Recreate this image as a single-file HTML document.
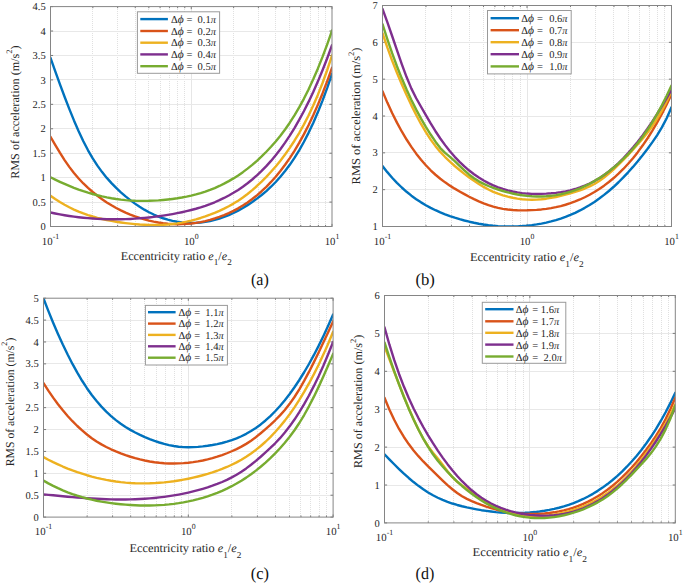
<!DOCTYPE html>
<html><head><meta charset="utf-8"><style>
html,body{margin:0;padding:0;background:#fff;width:685px;height:584px;overflow:hidden}
body{position:relative;font-family:"Liberation Serif", serif}
svg text{font-family:"Liberation Serif", serif;text-rendering:geometricPrecision;stroke:#262626;stroke-width:0px;paint-order:stroke}
</style></head><body>
<svg width="685" height="584" viewBox="0 0 685 584" style="position:absolute;left:0;top:0">
<defs>
<clipPath id="clipa"><rect x="50.5" y="6.6" width="281.5" height="219.9"/></clipPath>
<clipPath id="clipb"><rect x="382.5" y="5.5" width="289.0" height="221.0"/></clipPath>
<clipPath id="clipc"><rect x="43.5" y="298.2" width="289.6" height="218.90000000000003"/></clipPath>
<clipPath id="clipd"><rect x="384.5" y="295.5" width="290.79999999999995" height="227.39999999999998"/></clipPath>
</defs>
<line x1="92.50" y1="7" x2="92.50" y2="226" stroke="#e0e0e0" stroke-width="1" stroke-dasharray="1,1"/>
<line x1="117.50" y1="7" x2="117.50" y2="226" stroke="#e0e0e0" stroke-width="1" stroke-dasharray="1,1"/>
<line x1="135.50" y1="7" x2="135.50" y2="226" stroke="#e0e0e0" stroke-width="1" stroke-dasharray="1,1"/>
<line x1="148.50" y1="7" x2="148.50" y2="226" stroke="#e0e0e0" stroke-width="1" stroke-dasharray="1,1"/>
<line x1="160.50" y1="7" x2="160.50" y2="226" stroke="#e0e0e0" stroke-width="1" stroke-dasharray="1,1"/>
<line x1="169.50" y1="7" x2="169.50" y2="226" stroke="#e0e0e0" stroke-width="1" stroke-dasharray="1,1"/>
<line x1="177.50" y1="7" x2="177.50" y2="226" stroke="#e0e0e0" stroke-width="1" stroke-dasharray="1,1"/>
<line x1="184.50" y1="7" x2="184.50" y2="226" stroke="#e0e0e0" stroke-width="1" stroke-dasharray="1,1"/>
<line x1="233.50" y1="7" x2="233.50" y2="226" stroke="#e0e0e0" stroke-width="1" stroke-dasharray="1,1"/>
<line x1="258.50" y1="7" x2="258.50" y2="226" stroke="#e0e0e0" stroke-width="1" stroke-dasharray="1,1"/>
<line x1="275.50" y1="7" x2="275.50" y2="226" stroke="#e0e0e0" stroke-width="1" stroke-dasharray="1,1"/>
<line x1="289.50" y1="7" x2="289.50" y2="226" stroke="#e0e0e0" stroke-width="1" stroke-dasharray="1,1"/>
<line x1="300.50" y1="7" x2="300.50" y2="226" stroke="#e0e0e0" stroke-width="1" stroke-dasharray="1,1"/>
<line x1="310.50" y1="7" x2="310.50" y2="226" stroke="#e0e0e0" stroke-width="1" stroke-dasharray="1,1"/>
<line x1="318.50" y1="7" x2="318.50" y2="226" stroke="#e0e0e0" stroke-width="1" stroke-dasharray="1,1"/>
<line x1="325.50" y1="7" x2="325.50" y2="226" stroke="#e0e0e0" stroke-width="1" stroke-dasharray="1,1"/>
<line x1="191.50" y1="6.6" x2="191.50" y2="226.5" stroke="#e6e6e6" stroke-width="1"/>
<line x1="50.5" y1="202.50" x2="332.0" y2="202.50" stroke="#e8e8e8" stroke-width="1"/>
<line x1="50.5" y1="177.50" x2="332.0" y2="177.50" stroke="#e8e8e8" stroke-width="1"/>
<line x1="50.5" y1="153.50" x2="332.0" y2="153.50" stroke="#e8e8e8" stroke-width="1"/>
<line x1="50.5" y1="128.50" x2="332.0" y2="128.50" stroke="#e8e8e8" stroke-width="1"/>
<line x1="50.5" y1="104.50" x2="332.0" y2="104.50" stroke="#e8e8e8" stroke-width="1"/>
<line x1="50.5" y1="79.50" x2="332.0" y2="79.50" stroke="#e8e8e8" stroke-width="1"/>
<line x1="50.5" y1="55.50" x2="332.0" y2="55.50" stroke="#e8e8e8" stroke-width="1"/>
<line x1="50.5" y1="31.50" x2="332.0" y2="31.50" stroke="#e8e8e8" stroke-width="1"/>
<g stroke="#7a7a7a" stroke-width="1"><line x1="50.5" y1="226.50" x2="53.1" y2="226.50"/><line x1="332.0" y1="226.50" x2="329.4" y2="226.50"/><line x1="50.5" y1="202.07" x2="53.1" y2="202.07"/><line x1="332.0" y1="202.07" x2="329.4" y2="202.07"/><line x1="50.5" y1="177.63" x2="53.1" y2="177.63"/><line x1="332.0" y1="177.63" x2="329.4" y2="177.63"/><line x1="50.5" y1="153.20" x2="53.1" y2="153.20"/><line x1="332.0" y1="153.20" x2="329.4" y2="153.20"/><line x1="50.5" y1="128.77" x2="53.1" y2="128.77"/><line x1="332.0" y1="128.77" x2="329.4" y2="128.77"/><line x1="50.5" y1="104.33" x2="53.1" y2="104.33"/><line x1="332.0" y1="104.33" x2="329.4" y2="104.33"/><line x1="50.5" y1="79.90" x2="53.1" y2="79.90"/><line x1="332.0" y1="79.90" x2="329.4" y2="79.90"/><line x1="50.5" y1="55.47" x2="53.1" y2="55.47"/><line x1="332.0" y1="55.47" x2="329.4" y2="55.47"/><line x1="50.5" y1="31.03" x2="53.1" y2="31.03"/><line x1="332.0" y1="31.03" x2="329.4" y2="31.03"/><line x1="50.5" y1="6.60" x2="53.1" y2="6.60"/><line x1="332.0" y1="6.60" x2="329.4" y2="6.60"/><line x1="50.50" y1="226.5" x2="50.50" y2="223.9"/><line x1="50.50" y1="6.6" x2="50.50" y2="9.2"/><line x1="92.87" y1="226.5" x2="92.87" y2="224.9"/><line x1="92.87" y1="6.6" x2="92.87" y2="8.2"/><line x1="117.65" y1="226.5" x2="117.65" y2="224.9"/><line x1="117.65" y1="6.6" x2="117.65" y2="8.2"/><line x1="135.24" y1="226.5" x2="135.24" y2="224.9"/><line x1="135.24" y1="6.6" x2="135.24" y2="8.2"/><line x1="148.88" y1="226.5" x2="148.88" y2="224.9"/><line x1="148.88" y1="6.6" x2="148.88" y2="8.2"/><line x1="160.02" y1="226.5" x2="160.02" y2="224.9"/><line x1="160.02" y1="6.6" x2="160.02" y2="8.2"/><line x1="169.45" y1="226.5" x2="169.45" y2="224.9"/><line x1="169.45" y1="6.6" x2="169.45" y2="8.2"/><line x1="177.61" y1="226.5" x2="177.61" y2="224.9"/><line x1="177.61" y1="6.6" x2="177.61" y2="8.2"/><line x1="184.81" y1="226.5" x2="184.81" y2="224.9"/><line x1="184.81" y1="6.6" x2="184.81" y2="8.2"/><line x1="191.25" y1="226.5" x2="191.25" y2="223.9"/><line x1="191.25" y1="6.6" x2="191.25" y2="9.2"/><line x1="233.62" y1="226.5" x2="233.62" y2="224.9"/><line x1="233.62" y1="6.6" x2="233.62" y2="8.2"/><line x1="258.40" y1="226.5" x2="258.40" y2="224.9"/><line x1="258.40" y1="6.6" x2="258.40" y2="8.2"/><line x1="275.99" y1="226.5" x2="275.99" y2="224.9"/><line x1="275.99" y1="6.6" x2="275.99" y2="8.2"/><line x1="289.63" y1="226.5" x2="289.63" y2="224.9"/><line x1="289.63" y1="6.6" x2="289.63" y2="8.2"/><line x1="300.77" y1="226.5" x2="300.77" y2="224.9"/><line x1="300.77" y1="6.6" x2="300.77" y2="8.2"/><line x1="310.20" y1="226.5" x2="310.20" y2="224.9"/><line x1="310.20" y1="6.6" x2="310.20" y2="8.2"/><line x1="318.36" y1="226.5" x2="318.36" y2="224.9"/><line x1="318.36" y1="6.6" x2="318.36" y2="8.2"/><line x1="325.56" y1="226.5" x2="325.56" y2="224.9"/><line x1="325.56" y1="6.6" x2="325.56" y2="8.2"/><line x1="332.00" y1="226.5" x2="332.00" y2="223.9"/><line x1="332.00" y1="6.6" x2="332.00" y2="9.2"/></g>
<g clip-path="url(#clipa)"><polyline points="50.50,57.80 55.19,71.11 59.88,84.13 64.58,96.76 69.27,108.89 73.96,120.41 78.65,131.23 83.34,141.23 88.03,150.32 92.72,158.43 97.42,165.66 102.11,172.11 106.80,177.89 111.49,183.11 116.18,187.87 120.88,192.28 125.57,196.37 130.26,200.15 134.95,203.62 139.64,206.79 144.33,209.66 149.03,212.24 153.72,214.53 158.41,216.54 163.10,218.26 167.79,219.71 172.48,220.89 177.18,221.80 181.87,222.45 186.56,222.84 191.25,222.98 195.94,222.87 200.63,222.51 205.32,221.90 210.02,221.04 214.71,219.93 219.40,218.57 224.09,216.96 228.78,215.10 233.47,212.98 238.17,210.62 242.86,208.00 247.55,205.13 252.24,202.01 256.93,198.64 261.62,195.00 266.32,191.05 271.01,186.73 275.70,182.01 280.39,176.81 285.08,171.09 289.77,164.80 294.47,157.88 299.16,150.29 303.85,141.97 308.54,132.86 313.23,122.92 317.93,112.09 322.62,100.33 327.31,87.57 332.00,73.76" fill="none" stroke="#0072BD" stroke-width="2.4" stroke-linejoin="round" stroke-linecap="round"/><polyline points="50.50,136.85 55.19,144.89 59.88,152.69 64.58,160.08 69.27,166.89 73.96,173.01 78.65,178.51 83.34,183.46 88.03,187.94 92.72,192.02 97.42,195.78 102.11,199.25 106.80,202.42 111.49,205.33 116.18,207.98 120.88,210.39 125.57,212.58 130.26,214.55 134.95,216.34 139.64,217.94 144.33,219.36 149.03,220.60 153.72,221.66 158.41,222.54 163.10,223.23 167.79,223.74 172.48,224.06 177.18,224.20 181.87,224.15 186.56,223.91 191.25,223.48 195.94,222.87 200.63,222.06 205.32,221.06 210.02,219.87 214.71,218.48 219.40,216.90 224.09,215.11 228.78,213.10 233.47,210.84 238.17,208.33 242.86,205.54 247.55,202.45 252.24,199.05 256.93,195.32 261.62,191.24 266.32,186.79 271.01,181.96 275.70,176.71 280.39,171.01 285.08,164.81 289.77,158.09 294.47,150.80 299.16,142.91 303.85,134.38 308.54,125.18 313.23,115.27 317.93,104.61 322.62,93.17 327.31,80.91 332.00,67.79" fill="none" stroke="#D95319" stroke-width="2.4" stroke-linejoin="round" stroke-linecap="round"/><polyline points="50.50,195.76 55.19,199.05 59.88,202.06 64.58,204.80 69.27,207.29 73.96,209.55 78.65,211.59 83.34,213.42 88.03,215.05 92.72,216.52 97.42,217.82 102.11,218.97 106.80,220.00 111.49,220.91 116.18,221.72 120.88,222.45 125.57,223.10 130.26,223.67 134.95,224.15 139.64,224.54 144.33,224.82 149.03,225.00 153.72,225.05 158.41,224.99 163.10,224.80 167.79,224.46 172.48,223.99 177.18,223.36 181.87,222.59 186.56,221.67 191.25,220.59 195.94,219.36 200.63,217.98 205.32,216.44 210.02,214.74 214.71,212.88 219.40,210.85 224.09,208.65 228.78,206.24 233.47,203.59 238.17,200.68 242.86,197.47 247.55,193.95 252.24,190.12 256.93,185.98 261.62,181.55 266.32,176.83 271.01,171.80 275.70,166.44 280.39,160.70 285.08,154.53 289.77,147.89 294.47,140.74 299.16,133.01 303.85,124.63 308.54,115.51 313.23,105.55 317.93,94.67 322.62,82.77 327.31,69.75 332.00,55.53" fill="none" stroke="#EDB120" stroke-width="2.4" stroke-linejoin="round" stroke-linecap="round"/><polyline points="50.50,212.51 55.19,213.48 59.88,214.38 64.58,215.20 69.27,215.94 73.96,216.61 78.65,217.20 83.34,217.72 88.03,218.17 92.72,218.54 97.42,218.84 102.11,219.07 106.80,219.22 111.49,219.30 116.18,219.32 120.88,219.26 125.57,219.13 130.26,218.93 134.95,218.66 139.64,218.32 144.33,217.91 149.03,217.44 153.72,216.90 158.41,216.29 163.10,215.61 167.79,214.87 172.48,214.06 177.18,213.18 181.87,212.23 186.56,211.18 191.25,210.03 195.94,208.77 200.63,207.37 205.32,205.82 210.02,204.12 214.71,202.26 219.40,200.20 224.09,197.95 228.78,195.50 233.47,192.82 238.17,189.90 242.86,186.72 247.55,183.26 252.24,179.49 256.93,175.39 261.62,170.95 266.32,166.13 271.01,160.91 275.70,155.27 280.39,149.19 285.08,142.65 289.77,135.60 294.47,128.04 299.16,119.92 303.85,111.22 308.54,101.91 313.23,91.96 317.93,81.35 322.62,70.05 327.31,58.02 332.00,45.25" fill="none" stroke="#7E2F8E" stroke-width="2.4" stroke-linejoin="round" stroke-linecap="round"/><polyline points="50.50,177.27 55.19,179.60 59.88,181.82 64.58,183.92 69.27,185.90 73.96,187.77 78.65,189.52 83.34,191.14 88.03,192.64 92.72,194.02 97.42,195.27 102.11,196.39 106.80,197.39 111.49,198.25 116.18,198.99 120.88,199.60 125.57,200.08 130.26,200.45 134.95,200.71 139.64,200.85 144.33,200.88 149.03,200.81 153.72,200.63 158.41,200.36 163.10,199.98 167.79,199.52 172.48,198.96 177.18,198.30 181.87,197.53 186.56,196.63 191.25,195.61 195.94,194.43 200.63,193.10 205.32,191.60 210.02,189.92 214.71,188.04 219.40,185.96 224.09,183.67 228.78,181.15 233.47,178.40 238.17,175.40 242.86,172.15 247.55,168.64 252.24,164.85 256.93,160.79 261.62,156.42 266.32,151.76 271.01,146.78 275.70,141.43 280.39,135.67 285.08,129.45 289.77,122.70 294.47,115.38 299.16,107.43 303.85,98.81 308.54,89.46 313.23,79.34 317.93,68.43 322.62,56.68 327.31,44.08 332.00,30.58" fill="none" stroke="#77AC30" stroke-width="2.4" stroke-linejoin="round" stroke-linecap="round"/></g>
<rect x="50.5" y="6.6" width="281.50" height="219.90" fill="none" stroke="#858585" stroke-width="1"/>
<rect x="137.4" y="11.8" width="82.20" height="61.50" fill="#fff" stroke="#9a9a9a" stroke-width="1"/>
<line x1="140.3" y1="19.1" x2="167.9" y2="19.1" stroke="#0072BD" stroke-width="2.4"/>
<text x="170.90" y="22.80" font-size="10.5" fill="#262626">&#916;<tspan font-style="italic" font-size="11.5">&#981;</tspan></text>
<text x="186.60" y="22.80" font-size="10.5" fill="#262626">=</text>
<text x="197.50" y="22.80" font-size="10.5" fill="#262626">0.1<tspan font-style="italic">&#960;</tspan></text>
<line x1="140.3" y1="31.0" x2="167.9" y2="31.0" stroke="#D95319" stroke-width="2.4"/>
<text x="170.90" y="34.70" font-size="10.5" fill="#262626">&#916;<tspan font-style="italic" font-size="11.5">&#981;</tspan></text>
<text x="186.60" y="34.70" font-size="10.5" fill="#262626">=</text>
<text x="197.50" y="34.70" font-size="10.5" fill="#262626">0.2<tspan font-style="italic">&#960;</tspan></text>
<line x1="140.3" y1="42.7" x2="167.9" y2="42.7" stroke="#EDB120" stroke-width="2.4"/>
<text x="170.90" y="46.40" font-size="10.5" fill="#262626">&#916;<tspan font-style="italic" font-size="11.5">&#981;</tspan></text>
<text x="186.60" y="46.40" font-size="10.5" fill="#262626">=</text>
<text x="197.50" y="46.40" font-size="10.5" fill="#262626">0.3<tspan font-style="italic">&#960;</tspan></text>
<line x1="140.3" y1="54.4" x2="167.9" y2="54.4" stroke="#7E2F8E" stroke-width="2.4"/>
<text x="170.90" y="58.10" font-size="10.5" fill="#262626">&#916;<tspan font-style="italic" font-size="11.5">&#981;</tspan></text>
<text x="186.60" y="58.10" font-size="10.5" fill="#262626">=</text>
<text x="197.50" y="58.10" font-size="10.5" fill="#262626">0.4<tspan font-style="italic">&#960;</tspan></text>
<line x1="140.3" y1="66.2" x2="167.9" y2="66.2" stroke="#77AC30" stroke-width="2.4"/>
<text x="170.90" y="69.90" font-size="10.5" fill="#262626">&#916;<tspan font-style="italic" font-size="11.5">&#981;</tspan></text>
<text x="186.60" y="69.90" font-size="10.5" fill="#262626">=</text>
<text x="197.50" y="69.90" font-size="10.5" fill="#262626">0.5<tspan font-style="italic">&#960;</tspan></text>
<text x="45.70" y="230.10" font-size="10.5" fill="#262626" text-anchor="end">0</text>
<text x="45.70" y="205.67" font-size="10.5" fill="#262626" text-anchor="end">0.5</text>
<text x="45.70" y="181.23" font-size="10.5" fill="#262626" text-anchor="end">1</text>
<text x="45.70" y="156.80" font-size="10.5" fill="#262626" text-anchor="end">1.5</text>
<text x="45.70" y="132.37" font-size="10.5" fill="#262626" text-anchor="end">2</text>
<text x="45.70" y="107.93" font-size="10.5" fill="#262626" text-anchor="end">2.5</text>
<text x="45.70" y="83.50" font-size="10.5" fill="#262626" text-anchor="end">3</text>
<text x="45.70" y="59.07" font-size="10.5" fill="#262626" text-anchor="end">3.5</text>
<text x="45.70" y="34.63" font-size="10.5" fill="#262626" text-anchor="end">4</text>
<text x="45.70" y="10.20" font-size="10.5" fill="#262626" text-anchor="end">4.5</text>
<text x="50.50" y="244.80" font-size="10.8" fill="#262626" text-anchor="middle">10<tspan font-size="7.8" dy="-5.9">-1</tspan></text>
<text x="191.25" y="244.80" font-size="10.8" fill="#262626" text-anchor="middle">10<tspan font-size="7.8" dy="-5.9">0</tspan></text>
<text x="332.00" y="244.80" font-size="10.8" fill="#262626" text-anchor="middle">10<tspan font-size="7.8" dy="-5.9">1</tspan></text>
<text transform="translate(19.00,178.80) rotate(-90)" x="0" y="0" font-size="12" fill="#262626" textLength="133.40" lengthAdjust="spacingAndGlyphs">RMS of acceleration (m/s<tspan font-size="8.4" dy="-6.6">2</tspan><tspan dy="6.6">)</tspan></text>
<text x="120.70" y="259.80" font-size="12" fill="#262626" textLength="111.10" lengthAdjust="spacingAndGlyphs">Eccentricity ratio <tspan font-style="italic">e</tspan><tspan font-size="9" dy="5.6">1</tspan><tspan dy="-5.6">/</tspan><tspan font-style="italic">e</tspan><tspan font-size="9" dy="5.6">2</tspan></text>
<text x="251.00" y="285.40" font-size="17" fill="#111" textLength="17.80" lengthAdjust="spacingAndGlyphs">(a)</text>
<line x1="425.50" y1="6" x2="425.50" y2="226" stroke="#e0e0e0" stroke-width="1" stroke-dasharray="1,1"/>
<line x1="451.50" y1="6" x2="451.50" y2="226" stroke="#e0e0e0" stroke-width="1" stroke-dasharray="1,1"/>
<line x1="469.50" y1="6" x2="469.50" y2="226" stroke="#e0e0e0" stroke-width="1" stroke-dasharray="1,1"/>
<line x1="483.50" y1="6" x2="483.50" y2="226" stroke="#e0e0e0" stroke-width="1" stroke-dasharray="1,1"/>
<line x1="494.50" y1="6" x2="494.50" y2="226" stroke="#e0e0e0" stroke-width="1" stroke-dasharray="1,1"/>
<line x1="504.50" y1="6" x2="504.50" y2="226" stroke="#e0e0e0" stroke-width="1" stroke-dasharray="1,1"/>
<line x1="512.50" y1="6" x2="512.50" y2="226" stroke="#e0e0e0" stroke-width="1" stroke-dasharray="1,1"/>
<line x1="520.50" y1="6" x2="520.50" y2="226" stroke="#e0e0e0" stroke-width="1" stroke-dasharray="1,1"/>
<line x1="570.50" y1="6" x2="570.50" y2="226" stroke="#e0e0e0" stroke-width="1" stroke-dasharray="1,1"/>
<line x1="595.50" y1="6" x2="595.50" y2="226" stroke="#e0e0e0" stroke-width="1" stroke-dasharray="1,1"/>
<line x1="613.50" y1="6" x2="613.50" y2="226" stroke="#e0e0e0" stroke-width="1" stroke-dasharray="1,1"/>
<line x1="628.50" y1="6" x2="628.50" y2="226" stroke="#e0e0e0" stroke-width="1" stroke-dasharray="1,1"/>
<line x1="639.50" y1="6" x2="639.50" y2="226" stroke="#e0e0e0" stroke-width="1" stroke-dasharray="1,1"/>
<line x1="649.50" y1="6" x2="649.50" y2="226" stroke="#e0e0e0" stroke-width="1" stroke-dasharray="1,1"/>
<line x1="657.50" y1="6" x2="657.50" y2="226" stroke="#e0e0e0" stroke-width="1" stroke-dasharray="1,1"/>
<line x1="664.50" y1="6" x2="664.50" y2="226" stroke="#e0e0e0" stroke-width="1" stroke-dasharray="1,1"/>
<line x1="527.50" y1="5.5" x2="527.50" y2="226.5" stroke="#e6e6e6" stroke-width="1"/>
<line x1="382.5" y1="189.50" x2="671.5" y2="189.50" stroke="#e8e8e8" stroke-width="1"/>
<line x1="382.5" y1="152.50" x2="671.5" y2="152.50" stroke="#e8e8e8" stroke-width="1"/>
<line x1="382.5" y1="116.50" x2="671.5" y2="116.50" stroke="#e8e8e8" stroke-width="1"/>
<line x1="382.5" y1="79.50" x2="671.5" y2="79.50" stroke="#e8e8e8" stroke-width="1"/>
<line x1="382.5" y1="42.50" x2="671.5" y2="42.50" stroke="#e8e8e8" stroke-width="1"/>
<g stroke="#7a7a7a" stroke-width="1"><line x1="382.5" y1="226.50" x2="385.1" y2="226.50"/><line x1="671.5" y1="226.50" x2="668.9" y2="226.50"/><line x1="382.5" y1="189.67" x2="385.1" y2="189.67"/><line x1="671.5" y1="189.67" x2="668.9" y2="189.67"/><line x1="382.5" y1="152.83" x2="385.1" y2="152.83"/><line x1="671.5" y1="152.83" x2="668.9" y2="152.83"/><line x1="382.5" y1="116.00" x2="385.1" y2="116.00"/><line x1="671.5" y1="116.00" x2="668.9" y2="116.00"/><line x1="382.5" y1="79.17" x2="385.1" y2="79.17"/><line x1="671.5" y1="79.17" x2="668.9" y2="79.17"/><line x1="382.5" y1="42.33" x2="385.1" y2="42.33"/><line x1="671.5" y1="42.33" x2="668.9" y2="42.33"/><line x1="382.5" y1="5.50" x2="385.1" y2="5.50"/><line x1="671.5" y1="5.50" x2="668.9" y2="5.50"/><line x1="382.50" y1="226.5" x2="382.50" y2="223.9"/><line x1="382.50" y1="5.5" x2="382.50" y2="8.1"/><line x1="426.00" y1="226.5" x2="426.00" y2="224.9"/><line x1="426.00" y1="5.5" x2="426.00" y2="7.1"/><line x1="451.44" y1="226.5" x2="451.44" y2="224.9"/><line x1="451.44" y1="5.5" x2="451.44" y2="7.1"/><line x1="469.50" y1="226.5" x2="469.50" y2="224.9"/><line x1="469.50" y1="5.5" x2="469.50" y2="7.1"/><line x1="483.50" y1="226.5" x2="483.50" y2="224.9"/><line x1="483.50" y1="5.5" x2="483.50" y2="7.1"/><line x1="494.94" y1="226.5" x2="494.94" y2="224.9"/><line x1="494.94" y1="5.5" x2="494.94" y2="7.1"/><line x1="504.62" y1="226.5" x2="504.62" y2="224.9"/><line x1="504.62" y1="5.5" x2="504.62" y2="7.1"/><line x1="513.00" y1="226.5" x2="513.00" y2="224.9"/><line x1="513.00" y1="5.5" x2="513.00" y2="7.1"/><line x1="520.39" y1="226.5" x2="520.39" y2="224.9"/><line x1="520.39" y1="5.5" x2="520.39" y2="7.1"/><line x1="527.00" y1="226.5" x2="527.00" y2="223.9"/><line x1="527.00" y1="5.5" x2="527.00" y2="8.1"/><line x1="570.50" y1="226.5" x2="570.50" y2="224.9"/><line x1="570.50" y1="5.5" x2="570.50" y2="7.1"/><line x1="595.94" y1="226.5" x2="595.94" y2="224.9"/><line x1="595.94" y1="5.5" x2="595.94" y2="7.1"/><line x1="614.00" y1="226.5" x2="614.00" y2="224.9"/><line x1="614.00" y1="5.5" x2="614.00" y2="7.1"/><line x1="628.00" y1="226.5" x2="628.00" y2="224.9"/><line x1="628.00" y1="5.5" x2="628.00" y2="7.1"/><line x1="639.44" y1="226.5" x2="639.44" y2="224.9"/><line x1="639.44" y1="5.5" x2="639.44" y2="7.1"/><line x1="649.12" y1="226.5" x2="649.12" y2="224.9"/><line x1="649.12" y1="5.5" x2="649.12" y2="7.1"/><line x1="657.50" y1="226.5" x2="657.50" y2="224.9"/><line x1="657.50" y1="5.5" x2="657.50" y2="7.1"/><line x1="664.89" y1="226.5" x2="664.89" y2="224.9"/><line x1="664.89" y1="5.5" x2="664.89" y2="7.1"/><line x1="671.50" y1="226.5" x2="671.50" y2="223.9"/><line x1="671.50" y1="5.5" x2="671.50" y2="8.1"/></g>
<g clip-path="url(#clipb)"><polyline points="382.50,166.08 387.32,172.15 392.13,177.73 396.95,182.84 401.77,187.51 406.58,191.78 411.40,195.66 416.22,199.18 421.03,202.37 425.85,205.26 430.67,207.87 435.48,210.22 440.30,212.36 445.12,214.29 449.93,216.06 454.75,217.67 459.57,219.16 464.38,220.50 469.20,221.71 474.02,222.78 478.83,223.72 483.65,224.52 488.47,225.19 493.28,225.72 498.10,226.12 502.92,226.38 507.73,226.50 512.55,226.49 517.37,226.35 522.18,226.07 527.00,225.66 531.82,225.11 536.63,224.42 541.45,223.59 546.27,222.60 551.08,221.44 555.90,220.11 560.72,218.58 565.53,216.87 570.35,214.94 575.17,212.80 579.98,210.44 584.80,207.84 589.62,204.99 594.43,201.90 599.25,198.53 604.07,194.90 608.88,190.98 613.70,186.76 618.52,182.25 623.33,177.43 628.15,172.32 632.97,166.92 637.78,161.22 642.60,155.23 647.42,148.96 652.23,142.39 657.05,135.35 661.87,127.42 666.68,118.20 671.50,107.29" fill="none" stroke="#0072BD" stroke-width="2.4" stroke-linejoin="round" stroke-linecap="round"/><polyline points="382.50,91.20 387.32,102.60 392.13,113.07 396.95,122.66 401.77,131.46 406.58,139.52 411.40,146.90 416.22,153.64 421.03,159.76 425.85,165.29 430.67,170.28 435.48,174.75 440.30,178.75 445.12,182.36 449.93,185.64 454.75,188.66 459.57,191.47 464.38,194.15 469.20,196.72 474.02,199.13 478.83,201.37 483.65,203.40 488.47,205.19 493.28,206.71 498.10,207.93 502.92,208.86 507.73,209.53 512.55,209.98 517.37,210.23 522.18,210.33 527.00,210.30 531.82,210.15 536.63,209.86 541.45,209.43 546.27,208.85 551.08,208.10 555.90,207.17 560.72,206.06 565.53,204.74 570.35,203.22 575.17,201.47 579.98,199.48 584.80,197.25 589.62,194.77 594.43,192.01 599.25,188.98 604.07,185.66 608.88,182.02 613.70,178.04 618.52,173.69 623.33,168.96 628.15,163.80 632.97,158.20 637.78,152.14 642.60,145.57 647.42,138.49 652.23,130.86 657.05,122.65 661.87,113.84 666.68,104.41 671.50,94.33" fill="none" stroke="#D95319" stroke-width="2.4" stroke-linejoin="round" stroke-linecap="round"/><polyline points="382.50,33.23 387.32,47.46 392.13,60.58 396.95,72.78 401.77,84.24 406.58,95.09 411.40,105.34 416.22,114.99 421.03,123.96 425.85,132.19 430.67,139.61 435.48,146.16 440.30,151.93 445.12,157.04 449.93,161.67 454.75,165.99 459.57,170.04 464.38,173.85 469.20,177.45 474.02,180.85 478.83,184.02 483.65,186.93 488.47,189.53 493.28,191.79 498.10,193.70 502.92,195.30 507.73,196.64 512.55,197.74 517.37,198.59 522.18,199.21 527.00,199.58 531.82,199.71 536.63,199.60 541.45,199.26 546.27,198.69 551.08,197.91 555.90,196.96 560.72,195.85 565.53,194.62 570.35,193.29 575.17,191.87 579.98,190.31 584.80,188.51 589.62,186.42 594.43,183.95 599.25,181.03 604.07,177.58 608.88,173.67 613.70,169.35 618.52,164.72 623.33,159.84 628.15,154.80 632.97,149.64 637.78,144.31 642.60,138.72 647.42,132.73 652.23,126.17 657.05,118.88 661.87,110.71 666.68,101.47 671.50,91.01" fill="none" stroke="#EDB120" stroke-width="2.4" stroke-linejoin="round" stroke-linecap="round"/><polyline points="382.50,8.95 387.32,22.04 392.13,35.99 396.95,50.20 401.77,64.09 406.58,77.08 411.40,88.60 416.22,98.22 421.03,106.72 425.85,115.11 430.67,123.40 435.48,131.24 440.30,138.48 445.12,145.13 449.93,151.23 454.75,156.80 459.57,161.86 464.38,166.44 469.20,170.57 474.02,174.27 478.83,177.57 483.65,180.49 488.47,183.07 493.28,185.32 498.10,187.27 502.92,188.94 507.73,190.34 512.55,191.49 517.37,192.40 522.18,193.09 527.00,193.57 531.82,193.85 536.63,193.95 541.45,193.89 546.27,193.67 551.08,193.31 555.90,192.82 560.72,192.17 565.53,191.34 570.35,190.30 575.17,189.02 579.98,187.49 584.80,185.66 589.62,183.53 594.43,181.06 599.25,178.23 604.07,175.01 608.88,171.40 613.70,167.41 618.52,163.03 623.33,158.26 628.15,153.11 632.97,147.57 637.78,141.66 642.60,135.36 647.42,128.69 652.23,121.64 657.05,114.22 661.87,106.42 666.68,98.25 671.50,89.72" fill="none" stroke="#7E2F8E" stroke-width="2.4" stroke-linejoin="round" stroke-linecap="round"/><polyline points="382.50,24.11 387.32,39.16 392.13,53.18 396.95,66.22 401.77,78.32 406.58,89.56 411.40,99.97 416.22,109.62 421.03,118.56 425.85,126.85 430.67,134.54 435.48,141.68 440.30,148.06 445.12,152.92 449.93,156.86 454.75,161.15 459.57,165.79 464.38,170.41 469.20,174.68 474.02,178.31 478.83,181.34 483.65,183.87 488.47,186.00 493.28,187.85 498.10,189.50 502.92,190.99 507.73,192.32 512.55,193.48 517.37,194.45 522.18,195.25 527.00,195.85 531.82,196.26 536.63,196.46 541.45,196.46 546.27,196.25 551.08,195.82 555.90,195.16 560.72,194.27 565.53,193.14 570.35,191.77 575.17,190.16 579.98,188.28 584.80,186.15 589.62,183.75 594.43,181.08 599.25,178.13 604.07,174.89 608.88,171.36 613.70,167.54 618.52,163.41 623.33,158.93 628.15,154.07 632.97,148.76 637.78,142.98 642.60,136.68 647.42,129.81 652.23,122.33 657.05,114.19 661.87,105.36 666.68,95.78 671.50,85.42" fill="none" stroke="#77AC30" stroke-width="2.4" stroke-linejoin="round" stroke-linecap="round"/></g>
<rect x="382.5" y="5.5" width="289.00" height="221.00" fill="none" stroke="#858585" stroke-width="1"/>
<rect x="487.5" y="10.5" width="83.70" height="63.40" fill="#fff" stroke="#9a9a9a" stroke-width="1"/>
<line x1="490.6" y1="18.2" x2="519.0" y2="18.2" stroke="#0072BD" stroke-width="2.4"/>
<text x="521.20" y="21.90" font-size="10.5" fill="#262626">&#916;<tspan font-style="italic" font-size="11.5">&#981;</tspan></text>
<text x="536.90" y="21.90" font-size="10.5" fill="#262626">=</text>
<text x="549.20" y="21.90" font-size="10.5" fill="#262626">0.6<tspan font-style="italic">&#960;</tspan></text>
<line x1="490.6" y1="30.2" x2="519.0" y2="30.2" stroke="#D95319" stroke-width="2.4"/>
<text x="521.20" y="33.90" font-size="10.5" fill="#262626">&#916;<tspan font-style="italic" font-size="11.5">&#981;</tspan></text>
<text x="536.90" y="33.90" font-size="10.5" fill="#262626">=</text>
<text x="549.20" y="33.90" font-size="10.5" fill="#262626">0.7<tspan font-style="italic">&#960;</tspan></text>
<line x1="490.6" y1="42.2" x2="519.0" y2="42.2" stroke="#EDB120" stroke-width="2.4"/>
<text x="521.20" y="45.90" font-size="10.5" fill="#262626">&#916;<tspan font-style="italic" font-size="11.5">&#981;</tspan></text>
<text x="536.90" y="45.90" font-size="10.5" fill="#262626">=</text>
<text x="549.20" y="45.90" font-size="10.5" fill="#262626">0.8<tspan font-style="italic">&#960;</tspan></text>
<line x1="490.6" y1="54.2" x2="519.0" y2="54.2" stroke="#7E2F8E" stroke-width="2.4"/>
<text x="521.20" y="57.90" font-size="10.5" fill="#262626">&#916;<tspan font-style="italic" font-size="11.5">&#981;</tspan></text>
<text x="536.90" y="57.90" font-size="10.5" fill="#262626">=</text>
<text x="549.20" y="57.90" font-size="10.5" fill="#262626">0.9<tspan font-style="italic">&#960;</tspan></text>
<line x1="490.6" y1="66.4" x2="519.0" y2="66.4" stroke="#77AC30" stroke-width="2.4"/>
<text x="521.20" y="70.10" font-size="10.5" fill="#262626">&#916;<tspan font-style="italic" font-size="11.5">&#981;</tspan></text>
<text x="536.90" y="70.10" font-size="10.5" fill="#262626">=</text>
<text x="549.20" y="70.10" font-size="10.5" fill="#262626">1.0<tspan font-style="italic">&#960;</tspan></text>
<text x="377.70" y="230.10" font-size="10.5" fill="#262626" text-anchor="end">1</text>
<text x="377.70" y="193.27" font-size="10.5" fill="#262626" text-anchor="end">2</text>
<text x="377.70" y="156.43" font-size="10.5" fill="#262626" text-anchor="end">3</text>
<text x="377.70" y="119.60" font-size="10.5" fill="#262626" text-anchor="end">4</text>
<text x="377.70" y="82.77" font-size="10.5" fill="#262626" text-anchor="end">5</text>
<text x="377.70" y="45.93" font-size="10.5" fill="#262626" text-anchor="end">6</text>
<text x="377.70" y="9.10" font-size="10.5" fill="#262626" text-anchor="end">7</text>
<text x="382.50" y="245.00" font-size="10.8" fill="#262626" text-anchor="middle">10<tspan font-size="7.8" dy="-5.9">-1</tspan></text>
<text x="527.00" y="245.00" font-size="10.8" fill="#262626" text-anchor="middle">10<tspan font-size="7.8" dy="-5.9">0</tspan></text>
<text x="671.50" y="245.00" font-size="10.8" fill="#262626" text-anchor="middle">10<tspan font-size="7.8" dy="-5.9">1</tspan></text>
<text transform="translate(360.40,184.40) rotate(-90)" x="0" y="0" font-size="12" fill="#262626" textLength="136.90" lengthAdjust="spacingAndGlyphs">RMS of acceleration (m/s<tspan font-size="8.4" dy="-6.6">2</tspan><tspan dy="6.6">)</tspan></text>
<text x="469.90" y="261.00" font-size="12" fill="#262626" textLength="113.80" lengthAdjust="spacingAndGlyphs">Eccentricity ratio <tspan font-style="italic">e</tspan><tspan font-size="9" dy="5.6">1</tspan><tspan dy="-5.6">/</tspan><tspan font-style="italic">e</tspan><tspan font-size="9" dy="5.6">2</tspan></text>
<text x="415.40" y="285.30" font-size="17" fill="#111" textLength="19.40" lengthAdjust="spacingAndGlyphs">(b)</text>
<line x1="87.50" y1="299" x2="87.50" y2="517" stroke="#e0e0e0" stroke-width="1" stroke-dasharray="1,1"/>
<line x1="112.50" y1="299" x2="112.50" y2="517" stroke="#e0e0e0" stroke-width="1" stroke-dasharray="1,1"/>
<line x1="130.50" y1="299" x2="130.50" y2="517" stroke="#e0e0e0" stroke-width="1" stroke-dasharray="1,1"/>
<line x1="144.50" y1="299" x2="144.50" y2="517" stroke="#e0e0e0" stroke-width="1" stroke-dasharray="1,1"/>
<line x1="156.50" y1="299" x2="156.50" y2="517" stroke="#e0e0e0" stroke-width="1" stroke-dasharray="1,1"/>
<line x1="165.50" y1="299" x2="165.50" y2="517" stroke="#e0e0e0" stroke-width="1" stroke-dasharray="1,1"/>
<line x1="174.50" y1="299" x2="174.50" y2="517" stroke="#e0e0e0" stroke-width="1" stroke-dasharray="1,1"/>
<line x1="181.50" y1="299" x2="181.50" y2="517" stroke="#e0e0e0" stroke-width="1" stroke-dasharray="1,1"/>
<line x1="231.50" y1="299" x2="231.50" y2="517" stroke="#e0e0e0" stroke-width="1" stroke-dasharray="1,1"/>
<line x1="257.50" y1="299" x2="257.50" y2="517" stroke="#e0e0e0" stroke-width="1" stroke-dasharray="1,1"/>
<line x1="275.50" y1="299" x2="275.50" y2="517" stroke="#e0e0e0" stroke-width="1" stroke-dasharray="1,1"/>
<line x1="289.50" y1="299" x2="289.50" y2="517" stroke="#e0e0e0" stroke-width="1" stroke-dasharray="1,1"/>
<line x1="300.50" y1="299" x2="300.50" y2="517" stroke="#e0e0e0" stroke-width="1" stroke-dasharray="1,1"/>
<line x1="310.50" y1="299" x2="310.50" y2="517" stroke="#e0e0e0" stroke-width="1" stroke-dasharray="1,1"/>
<line x1="319.50" y1="299" x2="319.50" y2="517" stroke="#e0e0e0" stroke-width="1" stroke-dasharray="1,1"/>
<line x1="326.50" y1="299" x2="326.50" y2="517" stroke="#e0e0e0" stroke-width="1" stroke-dasharray="1,1"/>
<line x1="188.50" y1="298.2" x2="188.50" y2="517.1" stroke="#e6e6e6" stroke-width="1"/>
<line x1="43.5" y1="495.50" x2="333.1" y2="495.50" stroke="#e8e8e8" stroke-width="1"/>
<line x1="43.5" y1="473.50" x2="333.1" y2="473.50" stroke="#e8e8e8" stroke-width="1"/>
<line x1="43.5" y1="451.50" x2="333.1" y2="451.50" stroke="#e8e8e8" stroke-width="1"/>
<line x1="43.5" y1="429.50" x2="333.1" y2="429.50" stroke="#e8e8e8" stroke-width="1"/>
<line x1="43.5" y1="407.50" x2="333.1" y2="407.50" stroke="#e8e8e8" stroke-width="1"/>
<line x1="43.5" y1="385.50" x2="333.1" y2="385.50" stroke="#e8e8e8" stroke-width="1"/>
<line x1="43.5" y1="363.50" x2="333.1" y2="363.50" stroke="#e8e8e8" stroke-width="1"/>
<line x1="43.5" y1="341.50" x2="333.1" y2="341.50" stroke="#e8e8e8" stroke-width="1"/>
<line x1="43.5" y1="320.50" x2="333.1" y2="320.50" stroke="#e8e8e8" stroke-width="1"/>
<g stroke="#7a7a7a" stroke-width="1"><line x1="43.5" y1="517.10" x2="46.1" y2="517.10"/><line x1="333.1" y1="517.10" x2="330.5" y2="517.10"/><line x1="43.5" y1="495.21" x2="46.1" y2="495.21"/><line x1="333.1" y1="495.21" x2="330.5" y2="495.21"/><line x1="43.5" y1="473.32" x2="46.1" y2="473.32"/><line x1="333.1" y1="473.32" x2="330.5" y2="473.32"/><line x1="43.5" y1="451.43" x2="46.1" y2="451.43"/><line x1="333.1" y1="451.43" x2="330.5" y2="451.43"/><line x1="43.5" y1="429.54" x2="46.1" y2="429.54"/><line x1="333.1" y1="429.54" x2="330.5" y2="429.54"/><line x1="43.5" y1="407.65" x2="46.1" y2="407.65"/><line x1="333.1" y1="407.65" x2="330.5" y2="407.65"/><line x1="43.5" y1="385.76" x2="46.1" y2="385.76"/><line x1="333.1" y1="385.76" x2="330.5" y2="385.76"/><line x1="43.5" y1="363.87" x2="46.1" y2="363.87"/><line x1="333.1" y1="363.87" x2="330.5" y2="363.87"/><line x1="43.5" y1="341.98" x2="46.1" y2="341.98"/><line x1="333.1" y1="341.98" x2="330.5" y2="341.98"/><line x1="43.5" y1="320.09" x2="46.1" y2="320.09"/><line x1="333.1" y1="320.09" x2="330.5" y2="320.09"/><line x1="43.5" y1="298.20" x2="46.1" y2="298.20"/><line x1="333.1" y1="298.20" x2="330.5" y2="298.20"/><line x1="43.50" y1="517.1" x2="43.50" y2="514.5"/><line x1="43.50" y1="298.2" x2="43.50" y2="300.8"/><line x1="87.09" y1="517.1" x2="87.09" y2="515.5"/><line x1="87.09" y1="298.2" x2="87.09" y2="299.8"/><line x1="112.59" y1="517.1" x2="112.59" y2="515.5"/><line x1="112.59" y1="298.2" x2="112.59" y2="299.8"/><line x1="130.68" y1="517.1" x2="130.68" y2="515.5"/><line x1="130.68" y1="298.2" x2="130.68" y2="299.8"/><line x1="144.71" y1="517.1" x2="144.71" y2="515.5"/><line x1="144.71" y1="298.2" x2="144.71" y2="299.8"/><line x1="156.18" y1="517.1" x2="156.18" y2="515.5"/><line x1="156.18" y1="298.2" x2="156.18" y2="299.8"/><line x1="165.87" y1="517.1" x2="165.87" y2="515.5"/><line x1="165.87" y1="298.2" x2="165.87" y2="299.8"/><line x1="174.27" y1="517.1" x2="174.27" y2="515.5"/><line x1="174.27" y1="298.2" x2="174.27" y2="299.8"/><line x1="181.67" y1="517.1" x2="181.67" y2="515.5"/><line x1="181.67" y1="298.2" x2="181.67" y2="299.8"/><line x1="188.30" y1="517.1" x2="188.30" y2="514.5"/><line x1="188.30" y1="298.2" x2="188.30" y2="300.8"/><line x1="231.89" y1="517.1" x2="231.89" y2="515.5"/><line x1="231.89" y1="298.2" x2="231.89" y2="299.8"/><line x1="257.39" y1="517.1" x2="257.39" y2="515.5"/><line x1="257.39" y1="298.2" x2="257.39" y2="299.8"/><line x1="275.48" y1="517.1" x2="275.48" y2="515.5"/><line x1="275.48" y1="298.2" x2="275.48" y2="299.8"/><line x1="289.51" y1="517.1" x2="289.51" y2="515.5"/><line x1="289.51" y1="298.2" x2="289.51" y2="299.8"/><line x1="300.98" y1="517.1" x2="300.98" y2="515.5"/><line x1="300.98" y1="298.2" x2="300.98" y2="299.8"/><line x1="310.67" y1="517.1" x2="310.67" y2="515.5"/><line x1="310.67" y1="298.2" x2="310.67" y2="299.8"/><line x1="319.07" y1="517.1" x2="319.07" y2="515.5"/><line x1="319.07" y1="298.2" x2="319.07" y2="299.8"/><line x1="326.47" y1="517.1" x2="326.47" y2="515.5"/><line x1="326.47" y1="298.2" x2="326.47" y2="299.8"/><line x1="333.10" y1="517.1" x2="333.10" y2="514.5"/><line x1="333.10" y1="298.2" x2="333.10" y2="300.8"/></g>
<g clip-path="url(#clipc)"><polyline points="43.50,298.40 48.33,310.83 53.15,322.68 57.98,333.92 62.81,344.55 67.63,354.56 72.46,363.94 77.29,372.68 82.11,380.77 86.94,388.19 91.77,394.95 96.59,401.08 101.42,406.61 106.25,411.60 111.07,416.08 115.90,420.11 120.73,423.72 125.55,426.95 130.38,429.86 135.21,432.48 140.03,434.86 144.86,437.04 149.69,439.04 154.51,440.87 159.34,442.50 164.17,443.91 168.99,445.09 173.82,446.03 178.65,446.71 183.47,447.11 188.30,447.25 193.13,447.16 197.95,446.86 202.78,446.39 207.61,445.77 212.43,445.01 217.26,444.10 222.09,443.00 226.91,441.69 231.74,440.15 236.57,438.34 241.39,436.24 246.22,433.82 251.05,431.07 255.87,427.94 260.70,424.42 265.53,420.48 270.35,416.10 275.18,411.27 280.01,405.97 284.83,400.21 289.66,393.96 294.49,387.23 299.31,380.00 304.14,372.26 308.97,363.99 313.79,355.20 318.62,345.88 323.45,336.00 328.27,325.57 333.10,314.57" fill="none" stroke="#0072BD" stroke-width="2.4" stroke-linejoin="round" stroke-linecap="round"/><polyline points="43.50,383.11 48.33,390.57 53.15,397.59 57.98,404.17 62.81,410.31 67.63,415.99 72.46,421.22 77.29,426.01 82.11,430.41 86.94,434.48 91.77,438.19 96.59,441.49 101.42,444.40 106.25,446.97 111.07,449.29 115.90,451.42 120.73,453.36 125.55,455.14 130.38,456.74 135.21,458.18 140.03,459.44 144.86,460.53 149.69,461.45 154.51,462.20 159.34,462.78 164.17,463.19 168.99,463.44 173.82,463.51 178.65,463.42 183.47,463.17 188.30,462.74 193.13,462.16 197.95,461.40 202.78,460.48 207.61,459.39 212.43,458.12 217.26,456.68 222.09,455.06 226.91,453.25 231.74,451.26 236.57,449.07 241.39,446.64 246.22,443.88 251.05,440.75 255.87,437.17 260.70,433.21 265.53,429.07 270.35,424.80 275.18,420.28 280.01,415.38 284.83,409.95 289.66,403.87 294.49,397.01 299.31,389.33 304.14,380.93 308.97,371.92 313.79,362.41 318.62,352.51 323.45,342.33 328.27,331.98 333.10,321.57" fill="none" stroke="#D95319" stroke-width="2.4" stroke-linejoin="round" stroke-linecap="round"/><polyline points="43.50,457.18 48.33,459.72 53.15,462.12 57.98,464.38 62.81,466.52 67.63,468.52 72.46,470.39 77.29,472.13 82.11,473.73 86.94,475.22 91.77,476.57 96.59,477.80 101.42,478.90 106.25,479.88 111.07,480.74 115.90,481.47 120.73,482.09 125.55,482.59 130.38,482.96 135.21,483.22 140.03,483.37 144.86,483.40 149.69,483.32 154.51,483.12 159.34,482.81 164.17,482.40 168.99,481.87 173.82,481.24 178.65,480.49 183.47,479.65 188.30,478.70 193.13,477.64 197.95,476.48 202.78,475.22 207.61,473.86 212.43,472.37 217.26,470.75 222.09,468.95 226.91,466.97 231.74,464.78 236.57,462.36 241.39,459.68 246.22,456.73 251.05,453.48 255.87,449.92 260.70,446.01 265.53,441.75 270.35,437.10 275.18,432.04 280.01,426.56 284.83,420.62 289.66,414.22 294.49,407.32 299.31,399.91 304.14,391.96 308.97,383.45 313.79,374.37 318.62,364.68 323.45,354.36 328.27,343.40 333.10,331.78" fill="none" stroke="#EDB120" stroke-width="2.4" stroke-linejoin="round" stroke-linecap="round"/><polyline points="43.50,494.33 48.33,494.83 53.15,495.31 57.98,495.79 62.81,496.25 67.63,496.70 72.46,497.12 77.29,497.52 82.11,497.88 86.94,498.22 91.77,498.53 96.59,498.80 101.42,499.02 106.25,499.21 111.07,499.34 115.90,499.43 120.73,499.46 125.55,499.44 130.38,499.36 135.21,499.21 140.03,499.00 144.86,498.72 149.69,498.37 154.51,497.94 159.34,497.43 164.17,496.85 168.99,496.17 173.82,495.41 178.65,494.56 183.47,493.61 188.30,492.57 193.13,491.42 197.95,490.17 202.78,488.81 207.61,487.34 212.43,485.73 217.26,483.96 222.09,482.00 226.91,479.82 231.74,477.39 236.57,474.70 241.39,471.70 246.22,468.39 251.05,464.76 255.87,460.87 260.70,456.75 265.53,452.44 270.35,447.97 275.18,443.27 280.01,438.18 284.83,432.55 289.66,426.35 294.49,419.56 299.31,412.17 304.14,404.15 308.97,395.49 313.79,386.17 318.62,376.17 323.45,365.48 328.27,354.07 333.10,341.93" fill="none" stroke="#7E2F8E" stroke-width="2.4" stroke-linejoin="round" stroke-linecap="round"/><polyline points="43.50,480.62 48.33,483.35 53.15,485.87 57.98,488.20 62.81,490.34 67.63,492.30 72.46,494.09 77.29,495.71 82.11,497.17 86.94,498.49 91.77,499.67 96.59,500.71 101.42,501.63 106.25,502.44 111.07,503.14 115.90,503.74 120.73,504.24 125.55,504.67 130.38,505.01 135.21,505.27 140.03,505.44 144.86,505.52 149.69,505.51 154.51,505.39 159.34,505.17 164.17,504.85 168.99,504.40 173.82,503.84 178.65,503.16 183.47,502.36 188.30,501.42 193.13,500.35 197.95,499.15 202.78,497.80 207.61,496.30 212.43,494.64 217.26,492.81 222.09,490.80 226.91,488.60 231.74,486.19 236.57,483.57 241.39,480.71 246.22,477.62 251.05,474.27 255.87,470.66 260.70,466.77 265.53,462.60 270.35,458.13 275.18,453.34 280.01,448.23 284.83,442.75 289.66,436.78 294.49,430.24 299.31,423.00 304.14,415.02 308.97,406.32 313.79,396.92 318.62,386.89 323.45,376.32 328.27,365.28 333.10,353.85" fill="none" stroke="#77AC30" stroke-width="2.4" stroke-linejoin="round" stroke-linecap="round"/></g>
<rect x="43.5" y="298.2" width="289.60" height="218.90" fill="none" stroke="#858585" stroke-width="1"/>
<rect x="145.4" y="305.4" width="82.00" height="59.60" fill="#fff" stroke="#9a9a9a" stroke-width="1"/>
<line x1="148.0" y1="312.2" x2="175.6" y2="312.2" stroke="#0072BD" stroke-width="2.4"/>
<text x="178.60" y="315.80" font-size="10.5" fill="#262626">&#916;<tspan font-style="italic" font-size="11.5">&#981;</tspan></text>
<text x="194.30" y="315.80" font-size="10.5" fill="#262626">=</text>
<text x="205.30" y="315.80" font-size="10.5" fill="#262626">1.1<tspan font-style="italic">&#960;</tspan></text>
<line x1="148.0" y1="323.6" x2="175.6" y2="323.6" stroke="#D95319" stroke-width="2.4"/>
<text x="178.60" y="327.20" font-size="10.5" fill="#262626">&#916;<tspan font-style="italic" font-size="11.5">&#981;</tspan></text>
<text x="194.30" y="327.20" font-size="10.5" fill="#262626">=</text>
<text x="205.30" y="327.20" font-size="10.5" fill="#262626">1.2<tspan font-style="italic">&#960;</tspan></text>
<line x1="148.0" y1="334.9" x2="175.6" y2="334.9" stroke="#EDB120" stroke-width="2.4"/>
<text x="178.60" y="338.50" font-size="10.5" fill="#262626">&#916;<tspan font-style="italic" font-size="11.5">&#981;</tspan></text>
<text x="194.30" y="338.50" font-size="10.5" fill="#262626">=</text>
<text x="205.30" y="338.50" font-size="10.5" fill="#262626">1.3<tspan font-style="italic">&#960;</tspan></text>
<line x1="148.0" y1="346.3" x2="175.6" y2="346.3" stroke="#7E2F8E" stroke-width="2.4"/>
<text x="178.60" y="349.90" font-size="10.5" fill="#262626">&#916;<tspan font-style="italic" font-size="11.5">&#981;</tspan></text>
<text x="194.30" y="349.90" font-size="10.5" fill="#262626">=</text>
<text x="205.30" y="349.90" font-size="10.5" fill="#262626">1.4<tspan font-style="italic">&#960;</tspan></text>
<line x1="148.0" y1="357.7" x2="175.6" y2="357.7" stroke="#77AC30" stroke-width="2.4"/>
<text x="178.60" y="361.30" font-size="10.5" fill="#262626">&#916;<tspan font-style="italic" font-size="11.5">&#981;</tspan></text>
<text x="194.30" y="361.30" font-size="10.5" fill="#262626">=</text>
<text x="205.30" y="361.30" font-size="10.5" fill="#262626">1.5<tspan font-style="italic">&#960;</tspan></text>
<text x="38.70" y="520.70" font-size="10.5" fill="#262626" text-anchor="end">0</text>
<text x="38.70" y="498.81" font-size="10.5" fill="#262626" text-anchor="end">0.5</text>
<text x="38.70" y="476.92" font-size="10.5" fill="#262626" text-anchor="end">1</text>
<text x="38.70" y="455.03" font-size="10.5" fill="#262626" text-anchor="end">1.5</text>
<text x="38.70" y="433.14" font-size="10.5" fill="#262626" text-anchor="end">2</text>
<text x="38.70" y="411.25" font-size="10.5" fill="#262626" text-anchor="end">2.5</text>
<text x="38.70" y="389.36" font-size="10.5" fill="#262626" text-anchor="end">3</text>
<text x="38.70" y="367.47" font-size="10.5" fill="#262626" text-anchor="end">3.5</text>
<text x="38.70" y="345.58" font-size="10.5" fill="#262626" text-anchor="end">4</text>
<text x="38.70" y="323.69" font-size="10.5" fill="#262626" text-anchor="end">4.5</text>
<text x="38.70" y="301.80" font-size="10.5" fill="#262626" text-anchor="end">5</text>
<text x="43.50" y="534.50" font-size="10.8" fill="#262626" text-anchor="middle">10<tspan font-size="7.8" dy="-5.9">-1</tspan></text>
<text x="188.30" y="534.50" font-size="10.8" fill="#262626" text-anchor="middle">10<tspan font-size="7.8" dy="-5.9">0</tspan></text>
<text x="333.10" y="534.50" font-size="10.8" fill="#262626" text-anchor="middle">10<tspan font-size="7.8" dy="-5.9">1</tspan></text>
<text transform="translate(13.50,466.20) rotate(-90)" x="0" y="0" font-size="12" fill="#262626" textLength="128.50" lengthAdjust="spacingAndGlyphs">RMS of acceleration (m/s<tspan font-size="8.4" dy="-6.6">2</tspan><tspan dy="6.6">)</tspan></text>
<text x="129.50" y="552.10" font-size="12" fill="#262626" textLength="111.90" lengthAdjust="spacingAndGlyphs">Eccentricity ratio <tspan font-style="italic">e</tspan><tspan font-size="9" dy="5.6">1</tspan><tspan dy="-5.6">/</tspan><tspan font-style="italic">e</tspan><tspan font-size="9" dy="5.6">2</tspan></text>
<text x="250.70" y="578.80" font-size="17" fill="#111" textLength="18.20" lengthAdjust="spacingAndGlyphs">(c)</text>
<line x1="428.50" y1="296" x2="428.50" y2="522" stroke="#e0e0e0" stroke-width="1" stroke-dasharray="1,1"/>
<line x1="453.50" y1="296" x2="453.50" y2="522" stroke="#e0e0e0" stroke-width="1" stroke-dasharray="1,1"/>
<line x1="472.50" y1="296" x2="472.50" y2="522" stroke="#e0e0e0" stroke-width="1" stroke-dasharray="1,1"/>
<line x1="486.50" y1="296" x2="486.50" y2="522" stroke="#e0e0e0" stroke-width="1" stroke-dasharray="1,1"/>
<line x1="497.50" y1="296" x2="497.50" y2="522" stroke="#e0e0e0" stroke-width="1" stroke-dasharray="1,1"/>
<line x1="507.50" y1="296" x2="507.50" y2="522" stroke="#e0e0e0" stroke-width="1" stroke-dasharray="1,1"/>
<line x1="515.50" y1="296" x2="515.50" y2="522" stroke="#e0e0e0" stroke-width="1" stroke-dasharray="1,1"/>
<line x1="523.50" y1="296" x2="523.50" y2="522" stroke="#e0e0e0" stroke-width="1" stroke-dasharray="1,1"/>
<line x1="573.50" y1="296" x2="573.50" y2="522" stroke="#e0e0e0" stroke-width="1" stroke-dasharray="1,1"/>
<line x1="599.50" y1="296" x2="599.50" y2="522" stroke="#e0e0e0" stroke-width="1" stroke-dasharray="1,1"/>
<line x1="617.50" y1="296" x2="617.50" y2="522" stroke="#e0e0e0" stroke-width="1" stroke-dasharray="1,1"/>
<line x1="631.50" y1="296" x2="631.50" y2="522" stroke="#e0e0e0" stroke-width="1" stroke-dasharray="1,1"/>
<line x1="643.50" y1="296" x2="643.50" y2="522" stroke="#e0e0e0" stroke-width="1" stroke-dasharray="1,1"/>
<line x1="652.50" y1="296" x2="652.50" y2="522" stroke="#e0e0e0" stroke-width="1" stroke-dasharray="1,1"/>
<line x1="661.50" y1="296" x2="661.50" y2="522" stroke="#e0e0e0" stroke-width="1" stroke-dasharray="1,1"/>
<line x1="668.50" y1="296" x2="668.50" y2="522" stroke="#e0e0e0" stroke-width="1" stroke-dasharray="1,1"/>
<line x1="529.50" y1="295.5" x2="529.50" y2="522.9" stroke="#e6e6e6" stroke-width="1"/>
<line x1="384.5" y1="485.50" x2="675.3" y2="485.50" stroke="#e8e8e8" stroke-width="1"/>
<line x1="384.5" y1="447.50" x2="675.3" y2="447.50" stroke="#e8e8e8" stroke-width="1"/>
<line x1="384.5" y1="409.50" x2="675.3" y2="409.50" stroke="#e8e8e8" stroke-width="1"/>
<line x1="384.5" y1="371.50" x2="675.3" y2="371.50" stroke="#e8e8e8" stroke-width="1"/>
<line x1="384.5" y1="333.50" x2="675.3" y2="333.50" stroke="#e8e8e8" stroke-width="1"/>
<g stroke="#7a7a7a" stroke-width="1"><line x1="384.5" y1="522.90" x2="387.1" y2="522.90"/><line x1="675.3" y1="522.90" x2="672.6999999999999" y2="522.90"/><line x1="384.5" y1="485.00" x2="387.1" y2="485.00"/><line x1="675.3" y1="485.00" x2="672.6999999999999" y2="485.00"/><line x1="384.5" y1="447.10" x2="387.1" y2="447.10"/><line x1="675.3" y1="447.10" x2="672.6999999999999" y2="447.10"/><line x1="384.5" y1="409.20" x2="387.1" y2="409.20"/><line x1="675.3" y1="409.20" x2="672.6999999999999" y2="409.20"/><line x1="384.5" y1="371.30" x2="387.1" y2="371.30"/><line x1="675.3" y1="371.30" x2="672.6999999999999" y2="371.30"/><line x1="384.5" y1="333.40" x2="387.1" y2="333.40"/><line x1="675.3" y1="333.40" x2="672.6999999999999" y2="333.40"/><line x1="384.5" y1="295.50" x2="387.1" y2="295.50"/><line x1="675.3" y1="295.50" x2="672.6999999999999" y2="295.50"/><line x1="384.50" y1="522.9" x2="384.50" y2="520.3"/><line x1="384.50" y1="295.5" x2="384.50" y2="298.1"/><line x1="428.27" y1="522.9" x2="428.27" y2="521.3"/><line x1="428.27" y1="295.5" x2="428.27" y2="297.1"/><line x1="453.87" y1="522.9" x2="453.87" y2="521.3"/><line x1="453.87" y1="295.5" x2="453.87" y2="297.1"/><line x1="472.04" y1="522.9" x2="472.04" y2="521.3"/><line x1="472.04" y1="295.5" x2="472.04" y2="297.1"/><line x1="486.13" y1="522.9" x2="486.13" y2="521.3"/><line x1="486.13" y1="295.5" x2="486.13" y2="297.1"/><line x1="497.64" y1="522.9" x2="497.64" y2="521.3"/><line x1="497.64" y1="295.5" x2="497.64" y2="297.1"/><line x1="507.38" y1="522.9" x2="507.38" y2="521.3"/><line x1="507.38" y1="295.5" x2="507.38" y2="297.1"/><line x1="515.81" y1="522.9" x2="515.81" y2="521.3"/><line x1="515.81" y1="295.5" x2="515.81" y2="297.1"/><line x1="523.25" y1="522.9" x2="523.25" y2="521.3"/><line x1="523.25" y1="295.5" x2="523.25" y2="297.1"/><line x1="529.90" y1="522.9" x2="529.90" y2="520.3"/><line x1="529.90" y1="295.5" x2="529.90" y2="298.1"/><line x1="573.67" y1="522.9" x2="573.67" y2="521.3"/><line x1="573.67" y1="295.5" x2="573.67" y2="297.1"/><line x1="599.27" y1="522.9" x2="599.27" y2="521.3"/><line x1="599.27" y1="295.5" x2="599.27" y2="297.1"/><line x1="617.44" y1="522.9" x2="617.44" y2="521.3"/><line x1="617.44" y1="295.5" x2="617.44" y2="297.1"/><line x1="631.53" y1="522.9" x2="631.53" y2="521.3"/><line x1="631.53" y1="295.5" x2="631.53" y2="297.1"/><line x1="643.04" y1="522.9" x2="643.04" y2="521.3"/><line x1="643.04" y1="295.5" x2="643.04" y2="297.1"/><line x1="652.78" y1="522.9" x2="652.78" y2="521.3"/><line x1="652.78" y1="295.5" x2="652.78" y2="297.1"/><line x1="661.21" y1="522.9" x2="661.21" y2="521.3"/><line x1="661.21" y1="295.5" x2="661.21" y2="297.1"/><line x1="668.65" y1="522.9" x2="668.65" y2="521.3"/><line x1="668.65" y1="295.5" x2="668.65" y2="297.1"/><line x1="675.30" y1="522.9" x2="675.30" y2="520.3"/><line x1="675.30" y1="295.5" x2="675.30" y2="298.1"/></g>
<g clip-path="url(#clipd)"><polyline points="384.50,454.33 389.35,459.34 394.19,464.25 399.04,469.02 403.89,473.61 408.73,477.97 413.58,482.06 418.43,485.85 423.27,489.31 428.12,492.45 432.97,495.26 437.81,497.75 442.66,499.93 447.51,501.84 452.35,503.51 457.20,504.97 462.05,506.26 466.89,507.40 471.74,508.42 476.59,509.35 481.43,510.19 486.28,510.92 491.13,511.55 495.97,512.08 500.82,512.49 505.67,512.79 510.51,512.98 515.36,513.05 520.21,512.99 525.05,512.82 529.90,512.51 534.75,512.07 539.59,511.50 544.44,510.79 549.29,509.94 554.13,508.94 558.98,507.77 563.83,506.42 568.67,504.88 573.52,503.13 578.37,501.16 583.21,498.96 588.06,496.52 592.91,493.83 597.75,490.86 602.60,487.61 607.45,484.07 612.29,480.23 617.14,476.06 621.99,471.56 626.83,466.71 631.68,461.51 636.53,455.93 641.37,449.94 646.22,443.49 651.07,436.54 655.91,429.05 660.76,420.98 665.61,412.29 670.45,402.92 675.30,392.84" fill="none" stroke="#0072BD" stroke-width="2.4" stroke-linejoin="round" stroke-linecap="round"/><polyline points="384.50,397.71 389.35,409.46 394.19,419.81 399.04,428.94 403.89,436.98 408.73,444.10 413.58,450.45 418.43,456.17 423.27,461.44 428.12,466.39 432.97,471.19 437.81,475.95 442.66,480.62 447.51,485.10 452.35,489.26 457.20,493.01 462.05,496.23 466.89,498.85 471.74,501.07 476.59,503.10 481.43,504.95 486.28,506.63 491.13,508.13 495.97,509.46 500.82,510.62 505.67,511.61 510.51,512.43 515.36,513.08 520.21,513.56 525.05,513.87 529.90,514.02 534.75,514.01 539.59,513.83 544.44,513.49 549.29,512.99 554.13,512.31 558.98,511.44 563.83,510.37 568.67,509.09 573.52,507.58 578.37,505.84 583.21,503.85 588.06,501.60 592.91,499.07 597.75,496.25 602.60,493.14 607.45,489.72 612.29,485.97 617.14,481.89 621.99,477.46 626.83,472.67 631.68,467.50 636.53,461.96 641.37,456.04 646.22,449.78 651.07,443.14 655.91,435.97 660.76,428.03 665.61,419.12 670.45,409.09 675.30,397.80" fill="none" stroke="#D95319" stroke-width="2.4" stroke-linejoin="round" stroke-linecap="round"/><polyline points="384.50,346.47 389.35,359.05 394.19,371.73 399.04,384.30 403.89,396.55 408.73,408.31 413.58,419.35 418.43,429.49 423.27,438.52 428.12,446.24 432.97,452.67 437.81,458.53 442.66,464.72 447.51,471.19 452.35,477.14 457.20,481.83 462.05,485.50 466.89,488.83 471.74,492.19 476.59,495.52 481.43,498.77 486.28,501.85 491.13,504.70 495.97,507.25 500.82,509.43 505.67,511.26 510.51,512.75 515.36,513.92 520.21,514.82 525.05,515.45 529.90,515.84 534.75,516.01 539.59,515.97 544.44,515.73 549.29,515.27 554.13,514.61 558.98,513.74 563.83,512.68 568.67,511.41 573.52,509.95 578.37,508.28 583.21,506.41 588.06,504.29 592.91,501.93 597.75,499.29 602.60,496.35 607.45,493.11 612.29,489.53 617.14,485.60 621.99,481.29 626.83,476.59 631.68,471.45 636.53,465.84 641.37,459.73 646.22,453.20 651.07,446.47 655.91,439.46 660.76,431.95 665.61,423.72 670.45,414.55 675.30,404.22" fill="none" stroke="#EDB120" stroke-width="2.4" stroke-linejoin="round" stroke-linecap="round"/><polyline points="384.50,327.23 389.35,344.46 394.19,359.98 399.04,373.96 403.89,386.58 408.73,398.02 413.58,408.46 418.43,418.08 423.27,427.02 428.12,435.36 432.97,443.19 437.81,450.60 442.66,457.59 447.51,464.15 452.35,470.28 457.20,475.96 462.05,481.20 466.89,485.97 471.74,490.30 476.59,494.19 481.43,497.67 486.28,500.77 491.13,503.50 495.97,505.88 500.82,507.95 505.67,509.72 510.51,511.21 515.36,512.45 520.21,513.46 525.05,514.25 529.90,514.87 534.75,515.31 539.59,515.57 544.44,515.65 549.29,515.53 554.13,515.20 558.98,514.66 563.83,513.88 568.67,512.87 573.52,511.60 578.37,510.08 583.21,508.28 588.06,506.20 592.91,503.83 597.75,501.15 602.60,498.16 607.45,494.84 612.29,491.19 617.14,487.20 621.99,482.84 626.83,478.12 631.68,473.02 636.53,467.54 641.37,461.65 646.22,455.36 651.07,448.64 655.91,441.49 660.76,433.90 665.61,425.86 670.45,417.35 675.30,408.38" fill="none" stroke="#7E2F8E" stroke-width="2.4" stroke-linejoin="round" stroke-linecap="round"/><polyline points="384.50,342.38 389.35,357.14 394.19,371.18 399.04,384.45 403.89,396.95 408.73,408.65 413.58,419.51 418.43,429.53 423.27,438.67 428.12,446.92 432.97,454.24 437.81,460.72 442.66,466.54 447.51,471.90 452.35,476.92 457.20,481.61 462.05,485.98 466.89,490.05 471.74,493.82 476.59,497.31 481.43,500.50 486.28,503.42 491.13,506.06 495.97,508.42 500.82,510.51 505.67,512.35 510.51,513.92 515.36,515.23 520.21,516.29 525.05,517.11 529.90,517.68 534.75,518.01 539.59,518.11 544.44,517.98 549.29,517.63 554.13,517.06 558.98,516.27 563.83,515.28 568.67,514.08 573.52,512.69 578.37,511.09 583.21,509.28 588.06,507.23 592.91,504.92 597.75,502.33 602.60,499.42 607.45,496.19 612.29,492.60 617.14,488.63 621.99,484.26 626.83,479.53 631.68,474.54 636.53,469.41 641.37,464.23 646.22,458.93 651.07,453.10 655.91,446.42 660.76,438.61 665.61,429.36 670.45,418.41 675.30,405.45" fill="none" stroke="#77AC30" stroke-width="2.4" stroke-linejoin="round" stroke-linecap="round"/></g>
<rect x="384.5" y="295.5" width="290.80" height="227.40" fill="none" stroke="#858585" stroke-width="1"/>
<rect x="482.3" y="302.3" width="83.50" height="61.00" fill="#fff" stroke="#9a9a9a" stroke-width="1"/>
<line x1="485.2" y1="309.2" x2="513.5" y2="309.2" stroke="#0072BD" stroke-width="2.4"/>
<text x="515.80" y="313.20" font-size="10.5" fill="#262626">&#916;<tspan font-style="italic" font-size="11.5">&#981;</tspan></text>
<text x="532.20" y="313.20" font-size="10.5" fill="#262626">=</text>
<text x="540.80" y="313.20" font-size="10.5" fill="#262626">1.6<tspan font-style="italic">&#960;</tspan></text>
<line x1="485.2" y1="321.3" x2="513.5" y2="321.3" stroke="#D95319" stroke-width="2.4"/>
<text x="515.80" y="325.30" font-size="10.5" fill="#262626">&#916;<tspan font-style="italic" font-size="11.5">&#981;</tspan></text>
<text x="532.20" y="325.30" font-size="10.5" fill="#262626">=</text>
<text x="540.80" y="325.30" font-size="10.5" fill="#262626">1.7<tspan font-style="italic">&#960;</tspan></text>
<line x1="485.2" y1="332.8" x2="513.5" y2="332.8" stroke="#EDB120" stroke-width="2.4"/>
<text x="515.80" y="336.80" font-size="10.5" fill="#262626">&#916;<tspan font-style="italic" font-size="11.5">&#981;</tspan></text>
<text x="532.20" y="336.80" font-size="10.5" fill="#262626">=</text>
<text x="540.80" y="336.80" font-size="10.5" fill="#262626">1.8<tspan font-style="italic">&#960;</tspan></text>
<line x1="485.2" y1="344.6" x2="513.5" y2="344.6" stroke="#7E2F8E" stroke-width="2.4"/>
<text x="515.80" y="348.60" font-size="10.5" fill="#262626">&#916;<tspan font-style="italic" font-size="11.5">&#981;</tspan></text>
<text x="532.20" y="348.60" font-size="10.5" fill="#262626">=</text>
<text x="540.80" y="348.60" font-size="10.5" fill="#262626">1.9<tspan font-style="italic">&#960;</tspan></text>
<line x1="485.2" y1="356.5" x2="513.5" y2="356.5" stroke="#77AC30" stroke-width="2.4"/>
<text x="515.80" y="360.50" font-size="10.5" fill="#262626">&#916;<tspan font-style="italic" font-size="11.5">&#981;</tspan></text>
<text x="532.20" y="360.50" font-size="10.5" fill="#262626">=</text>
<text x="543.50" y="360.50" font-size="10.5" fill="#262626">2.0<tspan font-style="italic">&#960;</tspan></text>
<text x="379.70" y="526.50" font-size="10.5" fill="#262626" text-anchor="end">0</text>
<text x="379.70" y="488.60" font-size="10.5" fill="#262626" text-anchor="end">1</text>
<text x="379.70" y="450.70" font-size="10.5" fill="#262626" text-anchor="end">2</text>
<text x="379.70" y="412.80" font-size="10.5" fill="#262626" text-anchor="end">3</text>
<text x="379.70" y="374.90" font-size="10.5" fill="#262626" text-anchor="end">4</text>
<text x="379.70" y="337.00" font-size="10.5" fill="#262626" text-anchor="end">5</text>
<text x="379.70" y="299.10" font-size="10.5" fill="#262626" text-anchor="end">6</text>
<text x="384.50" y="540.70" font-size="10.8" fill="#262626" text-anchor="middle">10<tspan font-size="7.8" dy="-5.9">-1</tspan></text>
<text x="529.90" y="540.70" font-size="10.8" fill="#262626" text-anchor="middle">10<tspan font-size="7.8" dy="-5.9">0</tspan></text>
<text x="675.30" y="540.70" font-size="10.8" fill="#262626" text-anchor="middle">10<tspan font-size="7.8" dy="-5.9">1</tspan></text>
<text transform="translate(362.10,468.00) rotate(-90)" x="0" y="0" font-size="12" fill="#262626" textLength="133.30" lengthAdjust="spacingAndGlyphs">RMS of acceleration (m/s<tspan font-size="8.4" dy="-6.6">2</tspan><tspan dy="6.6">)</tspan></text>
<text x="472.60" y="556.30" font-size="12" fill="#262626" textLength="114.50" lengthAdjust="spacingAndGlyphs">Eccentricity ratio <tspan font-style="italic">e</tspan><tspan font-size="9" dy="5.6">1</tspan><tspan dy="-5.6">/</tspan><tspan font-style="italic">e</tspan><tspan font-size="9" dy="5.6">2</tspan></text>
<text x="415.60" y="578.80" font-size="17" fill="#111" textLength="18.70" lengthAdjust="spacingAndGlyphs">(d)</text>
</svg>
</body></html>
